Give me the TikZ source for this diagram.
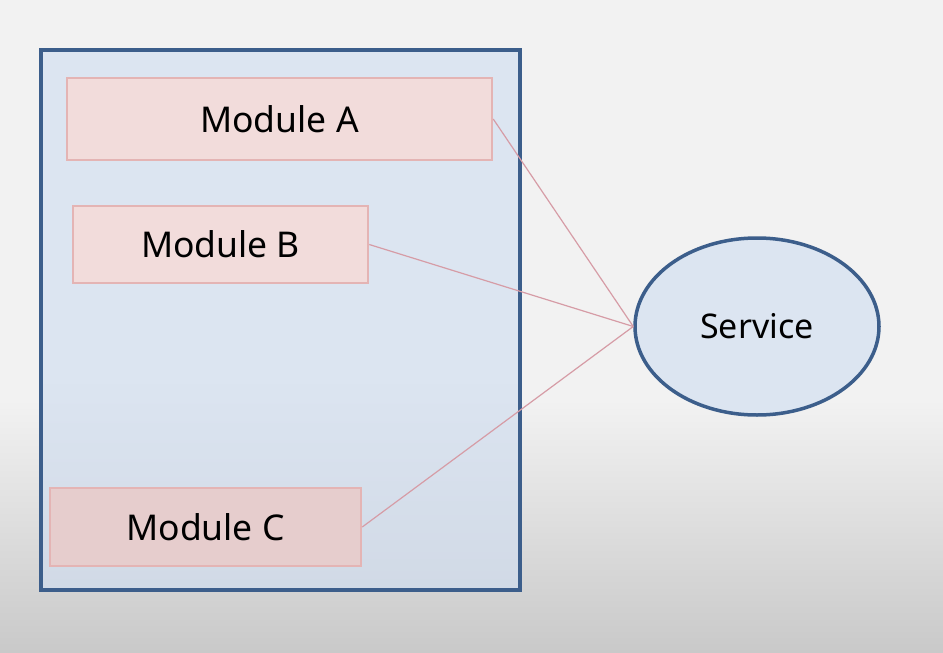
\documentclass[tikz,border=0pt]{standalone}
\usepackage{fontspec}
\setmainfont{Noto Sans}
\usetikzlibrary{shapes.geometric}
\definecolor{bgtop}{HTML}{F2F2F2}
\definecolor{bgbot}{HTML}{C9C9C9}
\definecolor{ctop}{HTML}{DCE5F1}
\definecolor{cbot}{HTML}{C3CBD8}
\definecolor{navy}{HTML}{3C5E8B}
\definecolor{modfill}{HTML}{F2DCDB}
\definecolor{modfillc}{HTML}{E6CDCD}
\definecolor{modedge}{HTML}{E4B4B4}
\definecolor{link}{HTML}{D69CA6}
\pgfdeclareverticalshading{contshade}{100bp}{color(0bp)=(cbot); color(45bp)=(ctop); color(100bp)=(ctop)}
\tikzset{
  container/.style={draw=navy, line width=3.5pt, shading=contshade, rectangle, inner sep=0pt},
  modbox/.style={draw=modedge, line width=2.5pt, fill=modfill, rectangle, inner sep=0pt, font=\fontsize{35.5}{40}\selectfont},
  svc/.style={draw=navy, line width=3.5pt, fill=ctop, ellipse, inner sep=0pt, minimum width=244pt, minimum height=177pt, font=\fontsize{34}{40}\selectfont},
  linkline/.style={draw=link, line width=1.2pt}
}
\begin{document}
\begin{tikzpicture}[x=1pt,y=-1pt]
\useasboundingbox (0,0) rectangle (943,653);
\fill[bgtop] (0,0) rectangle (943,400);
\shade[top color=bgtop, bottom color=bgbot] (0,399.5) rectangle (943,653);
\node[container, minimum width=479pt, minimum height=540pt] (sys) at (280.5,320) {};
\node[modbox, minimum width=425pt, minimum height=82pt] (ma) at (279.5,119) {Module A};
\node[modbox, minimum width=295pt, minimum height=77pt] (mb) at (220.5,244.5) {Module B};
\node[modbox, fill=modfillc, minimum width=311pt, minimum height=78pt] (mc) at (205.5,527) {Module C};
\node[svc] (svc) at (757,326.5) {Service};
\draw[linkline] (ma.east) -- (svc.west);
\draw[linkline] (mb.east) -- (svc.west);
\draw[linkline] (mc.east) -- (svc.west);
\end{tikzpicture}
\end{document}
